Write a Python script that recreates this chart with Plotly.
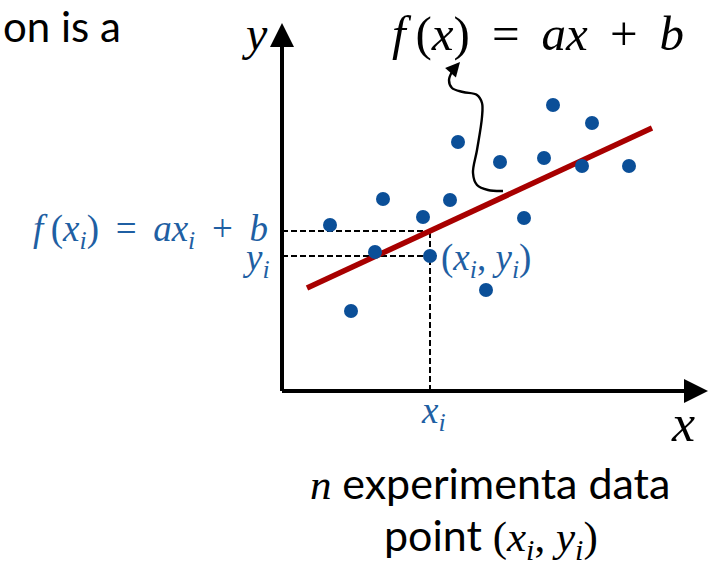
import plotly.graph_objects as go

# ---- data (diagram units: origin at the axes corner, y upward) ----
pts_x = [48, 69, 101, 93, 141, 168, 148, 176, 204, 218, 242, 262, 271, 300, 310, 347]
pts_y = [166, 80, 192, 139, 174, 191, 135, 249, 101, 229, 173, 233, 286, 225, 268, 225]

fit_x = [25, 370]
fit_y = [103, 263]

xi = 148
yi = 135
fxi = 160

curl_x = [221, 206, 195, 191, 195, 200, 200, 195, 181, 170, 167, 171]
curl_y = [200, 201, 206, 218, 241, 274, 288, 296, 299, 303, 311, 321]
curl_tip = (178, 329)

x_axis_end = 426
y_axis_end = 368

BLUE = "#0b4f98"
TBLUE = "#1f5fa3"
RED = "#a80000"
SERIF = "Liberation Serif"
SANS = "Lato"
SP = "\u2009"

fig = go.Figure()

# axes lines
fig.add_trace(go.Scatter(x=[0, x_axis_end - 12], y=[0, 0], mode="lines",
                         line=dict(color="black", width=4), hoverinfo="skip"))
fig.add_trace(go.Scatter(x=[0, 0], y=[0, y_axis_end - 12], mode="lines",
                         line=dict(color="black", width=4), hoverinfo="skip"))

# dashed guides
for gx, gy in (([0, xi], [fxi, fxi]), ([0, xi], [yi, yi]), ([xi, xi], [0, fxi])):
    fig.add_trace(go.Scatter(x=gx, y=gy, mode="lines",
                             line=dict(color="black", width=2, dash="6px,3px"),
                             hoverinfo="skip"))

# fitted line
fig.add_trace(go.Scatter(x=fit_x, y=fit_y, mode="lines",
                         line=dict(color=RED, width=5.5), hoverinfo="skip"))

# data points
fig.add_trace(go.Scatter(x=pts_x, y=pts_y, mode="markers",
                         marker=dict(color=BLUE, size=14, line=dict(width=0)), hoverinfo="skip"))

# curly arrow
fig.add_trace(go.Scatter(x=curl_x, y=curl_y, mode="lines", line_shape="spline",
                         line=dict(color="black", width=2.4), hoverinfo="skip"))

ann = []
# axis arrowheads
ann.append(dict(x=x_axis_end, y=0, ax=x_axis_end - 20, ay=0, axref="x", ayref="y",
                xref="x", yref="y", showarrow=True, arrowhead=2, arrowsize=1.2,
                arrowwidth=4, arrowcolor="black", text=""))
ann.append(dict(x=0, y=y_axis_end, ax=0, ay=y_axis_end - 20, axref="x", ayref="y",
                xref="x", yref="y", showarrow=True, arrowhead=2, arrowsize=1.2,
                arrowwidth=4, arrowcolor="black", text=""))
# curl arrowhead
ann.append(dict(x=curl_tip[0], y=curl_tip[1], ax=curl_x[-1], ay=curl_y[-1],
                axref="x", ayref="y", xref="x", yref="y", showarrow=True,
                arrowhead=2, arrowsize=1.2, arrowwidth=2.4, arrowcolor="black", text=""))


def txt(x, y, s, size, color="black", font=SERIF, xanchor="center", yanchor="middle"):
    ann.append(dict(x=x, y=y, xref="x", yref="y", text=s, showarrow=False,
                    xanchor=xanchor, yanchor=yanchor,
                    font=dict(family=font, size=size, color=color)))


txt(-281, 365, "on is a", 42, font=SANS, xanchor="left")
txt(-28, 358, "<i>y</i>", 48)
txt(256, 358, f"<i>f</i>{SP}(<i>x</i>){SP} = {SP}<i>ax</i>{SP} + {SP}<i>b</i>", 49)
txt(-12, 160,
    f"<i>f</i>{SP}(<i>x<sub>i</sub></i>){SP} = {SP}<i>ax<sub>i</sub></i>{SP} + {SP}<i>b</i>",
    37, color=TBLUE, xanchor="right")
txt(-10, 131, "<i>y<sub>i</sub></i>", 37, color=TBLUE, xanchor="right")
txt(157, 131, "(<i>x<sub>i</sub></i>, <i>y<sub>i</sub></i>)", 37, color=TBLUE, xanchor="left")
txt(151, -22, "<i>x<sub>i</sub></i>", 37, color=TBLUE)
txt(401, -32, "<i>x</i>", 52)
txt(208, -91, "<i>n</i> <span style='font-family:Lato'>experimenta data</span>", 43)
txt(209, -147, "<span style='font-family:Lato'>point</span> (<i>x<sub>i</sub></i>, <i>y<sub>i</sub></i>)", 43)

fig.update_layout(
    width=711, height=565,
    margin=dict(l=0, r=0, t=0, b=0),
    paper_bgcolor="white", plot_bgcolor="white",
    showlegend=False,
    xaxis=dict(range=[-282, 429], visible=False, fixedrange=True),
    yaxis=dict(range=[-174, 391], visible=False, fixedrange=True),
    annotations=ann,
)

fig.write_html("out.html")
